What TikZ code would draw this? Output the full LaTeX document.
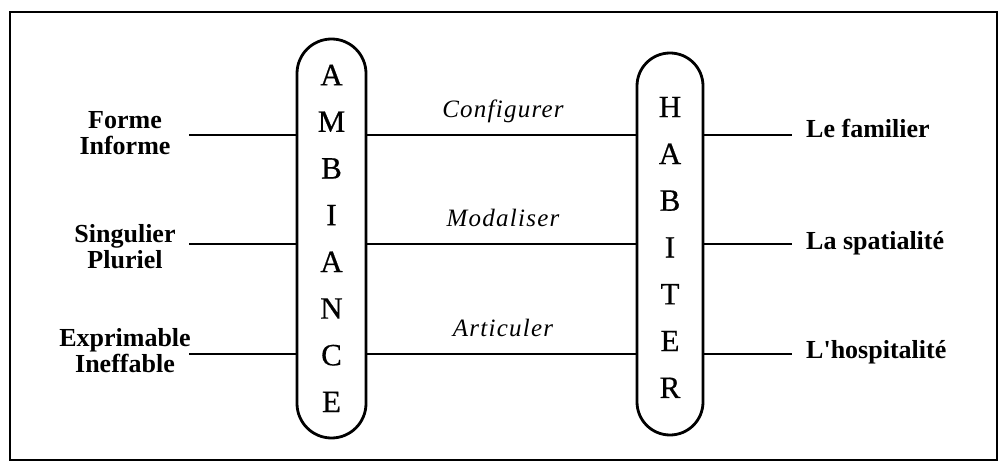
\documentclass[tikz,border=0pt]{standalone}
\usepackage{fontspec}
\setmainfont{Liberation Serif}
\newfontfamily\verbfont[LetterSpace=5]{Liberation Serif}
\newfontfamily\pillfont[FakeBold=0.6]{Liberation Serif}
\begin{document}
\begin{tikzpicture}[x=1pt,y=-1pt,
  conn/.style={line width=2.8pt},
  pill/.style={draw,line width=2.8pt,rectangle,rounded corners=#1,inner sep=0pt},
  pletter/.style={font=\fontsize{31}{31}\selectfont\pillfont,inner sep=0pt},
  lab/.style={font=\fontsize{26}{26}\selectfont\bfseries,align=center,inner sep=0pt},
  rlab/.style={font=\fontsize{26}{26}\selectfont\bfseries,inner sep=0pt,anchor=base west},
  verb/.style={font=\fontsize{25}{25}\selectfont\verbfont\itshape,inner sep=0pt,anchor=base}]
\useasboundingbox (0,0) rectangle (1000,462);
\node[draw,line width=2.8pt,minimum width=987pt,minimum height=448pt,inner sep=0pt] (frame) at (503.5,236) {};
% pills
\node[pill=34.5pt,minimum width=69pt,minimum height=399pt] (amb) at (331.5,238.5) {};
\node[pill=33pt,minimum width=66pt,minimum height=382pt] (hab) at (670,244) {};
\foreach \l [count=\i from 0] in {A,M,B,I,A,N,C,E}
  \node[pletter] (amb-\i) at (331.5,{75+46.7*\i}) {\l};
\foreach \l [count=\i from 0] in {H,A,B,I,T,E,R}
  \node[pletter] (hab-\i) at (670,{107+46.8*\i}) {\l};
% left labels
\node[lab] (forme) at (125,133.5) {Forme\\Informe};
\node[lab] (sing) at (125,246.5) {Singulier\\Pluriel};
\node[lab] (expr) at (125,350.5) {Exprimable\\Ineffable};
% right labels
\node[rlab] (fam) at (806,138) {Le familier};
\node[rlab] (spa) at (806,249) {La spatialité};
\node[rlab] (hos) at (806,358) {L\textquotesingle hospitalité};
% verbs
\node[verb] (conf) at (503,118) {Configurer};
\node[verb] (moda) at (503,227) {Modaliser};
\node[verb] (arti) at (503,336) {Articuler};
% connectors
\foreach \y/\n in {135/1,244/2,354/3}{
  \coordinate (l\n) at (189,\y);
  \coordinate (r\n) at (792,\y);
  \draw[conn] (l\n) -- (l\n -| amb.west);
  \draw[conn] (amb.east |- l\n) -- (hab.west |- l\n);
  \draw[conn] (hab.east |- r\n) -- (r\n);
}
\end{tikzpicture}
\end{document}
